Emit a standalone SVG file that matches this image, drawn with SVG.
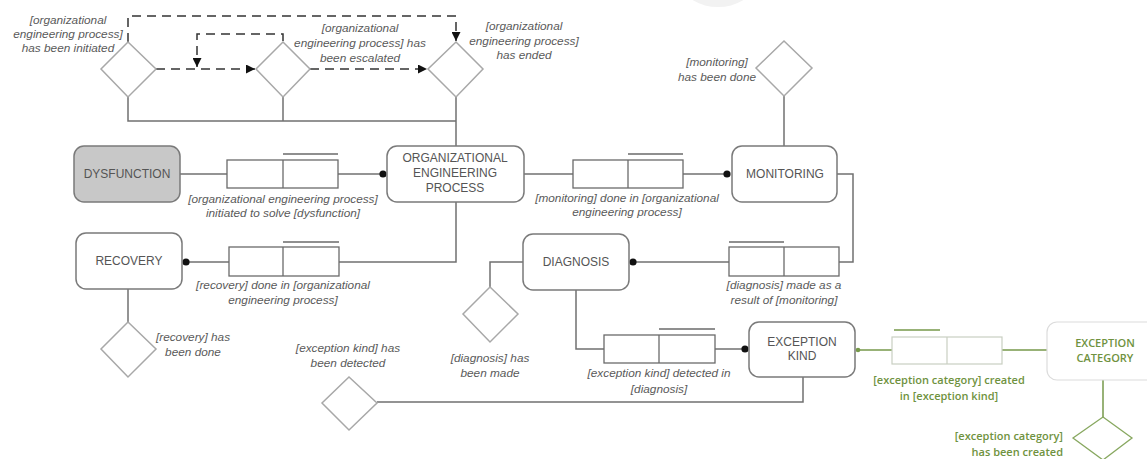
<svg xmlns="http://www.w3.org/2000/svg" width="1147" height="459" viewBox="0 0 1147 459">
<defs>
<marker id="arr" viewBox="0 0 10 10" refX="10" refY="5" markerWidth="9" markerHeight="9" markerUnits="userSpaceOnUse" orient="auto">
<path d="M0,0 L10,5 L0,10 z" fill="#111"/>
</marker>
<style>
.node{fill:#fff;stroke:#7a7a7a;stroke-width:1.5}
.dys{fill:#c8c8c8;stroke:#7a7a7a;stroke-width:1.5}
.nt{font-family:"Liberation Sans",Arial,sans-serif;font-size:12px;fill:#555;text-anchor:middle}
.lbl{font-family:"Liberation Sans",Arial,sans-serif;font-size:11.8px;font-style:italic;fill:#5a5a5a;text-anchor:middle}
.dia{fill:#fff;stroke:#a8a8a8;stroke-width:1.5}
.ln{fill:none;stroke:#707070;stroke-width:1.5}
.box{fill:#fff;stroke:#6a6a6a;stroke-width:1.3}
.dash{fill:none;stroke:#333;stroke-width:1.5;stroke-dasharray:9 6}
.dot{fill:#111}
.g{fill:none;stroke:#76994a;stroke-width:1.5}
.gt{font-family:"Open Sans","Noto Sans",sans-serif;font-size:11px;font-weight:600;fill:#6f9240;text-anchor:middle}
.gbox{fill:#fff;stroke:#c9cfc2;stroke-width:1.2}
.gdia{fill:#fff;stroke:#88a860;stroke-width:1.3}
</style>
</defs>
<rect width="1147" height="459" fill="#fff"/>
<ellipse cx="718" cy="-14" rx="34" ry="21" fill="#f2f2f2"/>

<g id="connectors">
<polyline class="dash" points="128,42 128,16 456,16 456,41" marker-end="url(#arr)"/>
<line class="dash" x1="156" y1="69" x2="255" y2="69" marker-end="url(#arr)"/>
<polyline class="dash" points="283,41 283,34 197,34 197,67" marker-end="url(#arr)"/>
<line class="dash" x1="310" y1="69" x2="427" y2="69" marker-end="url(#arr)"/>
<polyline class="ln" points="128,97 128,121 456,121"/>
<line class="ln" x1="283" y1="97" x2="283" y2="121"/>
<line class="ln" x1="456" y1="97" x2="456" y2="146"/>
<line class="ln" x1="180" y1="174" x2="227" y2="174"/>
<line class="ln" x1="338" y1="174" x2="383" y2="174"/>
<rect class="box" x="227" y="160" width="111" height="28"/>
<line class="box" x1="283" y1="160" x2="283" y2="188"/>
<line class="box" x1="283" y1="154" x2="338" y2="154"/>
<circle class="dot" cx="383" cy="174" r="3.6"/>
<polyline class="ln" points="456,202 456,262 339,262"/>
<line class="ln" x1="229" y1="262" x2="186" y2="262"/>
<rect class="box" x="229" y="247" width="110" height="29"/>
<line class="box" x1="283" y1="247" x2="283" y2="276"/>
<line class="box" x1="283" y1="242" x2="339" y2="242"/>
<circle class="dot" cx="186" cy="262" r="3.6"/>
<line class="ln" x1="128" y1="289" x2="128" y2="322"/>
<line class="ln" x1="524" y1="174" x2="573" y2="174"/>
<line class="ln" x1="683" y1="174" x2="727" y2="174"/>
<rect class="box" x="573" y="160" width="110" height="28"/>
<line class="box" x1="628" y1="160" x2="628" y2="188"/>
<line class="box" x1="628" y1="154" x2="683" y2="154"/>
<circle class="dot" cx="727" cy="174" r="3.6"/>
<line class="ln" x1="784" y1="96" x2="784" y2="146"/>
<polyline class="ln" points="837,174 853,174 853,262 839,262"/>
<line class="ln" x1="729" y1="262" x2="633" y2="262"/>
<rect class="box" x="729" y="247" width="110" height="29"/>
<line class="box" x1="784" y1="247" x2="784" y2="276"/>
<line class="box" x1="729" y1="242" x2="784" y2="242"/>
<circle class="dot" cx="633" cy="262" r="3.6"/>
<polyline class="ln" points="523,262 490,262 490,287"/>
<polyline class="ln" points="576,290 576,349 604,349"/>
<line class="ln" x1="715" y1="349" x2="745" y2="349"/>
<rect class="box" x="604" y="335" width="111" height="28"/>
<line class="box" x1="659" y1="335" x2="659" y2="363"/>
<line class="box" x1="659" y1="329" x2="715" y2="329"/>
<circle class="dot" cx="745" cy="349" r="3.6"/>
<polyline class="ln" points="803,377 803,402 377,402"/>
<line class="g" x1="858" y1="350" x2="892" y2="350"/>
<line class="g" x1="1002" y1="350" x2="1047" y2="350"/>
<rect class="gbox" x="892" y="337" width="110" height="27"/>
<line class="gbox" x1="947" y1="337" x2="947" y2="364"/>
<line class="g" x1="894" y1="330" x2="940" y2="330"/>
<circle cx="858" cy="350" r="2.3" fill="#76994a"/>
<line class="g" x1="1103" y1="380" x2="1103" y2="417"/>
</g>

<g id="d-initiated">
<polygon class="dia" points="128,42 156,69 128,97 101,69"/>
<text class="lbl" x="68" y="24">[organizational</text>
<text class="lbl" x="68" y="38">engineering process]</text>
<text class="lbl" x="68" y="52">has been initiated</text>
</g>
<g id="d-escalated">
<polygon class="dia" points="283,42 310,69 283,97 256,69"/>
<text class="lbl" x="360" y="32">[organizational</text>
<text class="lbl" x="360" y="47">engineering process] has</text>
<text class="lbl" x="360" y="62">been escalated</text>
</g>
<g id="d-ended">
<polygon class="dia" points="456,42 483,69 456,97 428,69"/>
<text class="lbl" x="524" y="30">[organizational</text>
<text class="lbl" x="524" y="45">engineering process]</text>
<text class="lbl" x="524" y="59">has ended</text>
</g>
<g id="d-monitoring">
<polygon class="dia" points="784,41 812,68 784,96 756,68"/>
<text class="lbl" x="717" y="66">[monitoring]</text>
<text class="lbl" x="717" y="81">has been done</text>
</g>
<g id="n-dysfunction">
<rect class="dys" x="74" y="146" width="106" height="56" rx="10"/>
<text class="nt" x="127" y="178">DYSFUNCTION</text>
</g>
<g id="n-oep">
<rect class="node" x="387" y="146" width="137" height="56" rx="10"/>
<text class="nt" x="455" y="162">ORGANIZATIONAL</text>
<text class="nt" x="455" y="177">ENGINEERING</text>
<text class="nt" x="455" y="192">PROCESS</text>
</g>
<g id="l-initiated">
<text class="lbl" x="283" y="203">[organizational engineering process]</text>
<text class="lbl" x="283" y="217">initiated to solve [dysfunction]</text>
</g>
<g id="n-monitoring">
<rect class="node" x="732" y="146" width="105" height="56" rx="10"/>
<text class="nt" x="785" y="178">MONITORING</text>
</g>
<g id="l-monitoring">
<text class="lbl" x="627" y="202">[monitoring] done in [organizational</text>
<text class="lbl" x="627" y="216">engineering process]</text>
</g>
<g id="n-recovery">
<rect class="node" x="76" y="233" width="106" height="56" rx="10"/>
<text class="nt" x="129" y="265">RECOVERY</text>
</g>
<g id="l-recovery">
<text class="lbl" x="283" y="289">[recovery] done in [organizational</text>
<text class="lbl" x="283" y="304">engineering process]</text>
</g>
<g id="d-recovery">
<polygon class="dia" points="128,322 156,349 128,377 101,349"/>
<text class="lbl" x="193" y="341">[recovery] has</text>
<text class="lbl" x="193" y="356">been done</text>
</g>
<g id="n-diagnosis">
<rect class="node" x="523" y="234" width="106" height="56" rx="10"/>
<text class="nt" x="576" y="266">DIAGNOSIS</text>
</g>
<g id="l-diagnosis">
<text class="lbl" x="784" y="289">[diagnosis] made as a</text>
<text class="lbl" x="784" y="304">result of [monitoring]</text>
</g>
<g id="d-diagnosis">
<polygon class="dia" points="490,287 518,314 490,342 463,314"/>
<text class="lbl" x="490" y="362">[diagnosis] has</text>
<text class="lbl" x="490" y="377">been made</text>
</g>
<g id="n-exceptionkind">
<rect class="node" x="749" y="322" width="106" height="55" rx="10"/>
<text class="nt" x="802" y="346">EXCEPTION</text>
<text class="nt" x="802" y="360">KIND</text>
</g>
<g id="l-exceptionkind">
<text class="lbl" x="659" y="377">[exception kind] detected in</text>
<text class="lbl" x="659" y="393">[diagnosis]</text>
</g>
<g id="d-exceptionkind">
<polygon class="dia" points="349,377 377,403 349,430 322,403"/>
<text class="lbl" x="348" y="352">[exception kind] has</text>
<text class="lbl" x="348" y="367">been detected</text>
</g>
<g id="n-exceptioncategory">
<rect x="1047" y="322" width="112" height="58" rx="10" fill="#fff" stroke="#dcdcdc" stroke-width="1.2"/>
<text class="gt" x="1105" y="347">EXCEPTION</text>
<text class="gt" x="1105" y="362">CATEGORY</text>
</g>
<g id="l-exceptioncategory">
<text class="gt" x="949" y="384">[exception category] created</text>
<text class="gt" x="949" y="400">in [exception kind]</text>
</g>
<g id="d-exceptioncategory">
<polygon class="gdia" points="1103,417 1132,438 1103,460 1073,438"/>
<text class="gt" x="1063" y="440" style="text-anchor:end">[exception category]</text>
<text class="gt" x="1063" y="456" style="text-anchor:end">has been created</text>
</g>
</svg>
